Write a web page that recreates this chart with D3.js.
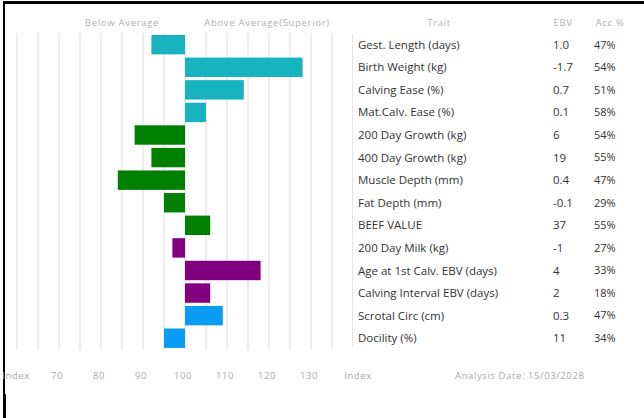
<!DOCTYPE html>
<html><head><meta charset="utf-8">
<script src="https://cdn.jsdelivr.net/npm/d3@7"></script>
<style>html,body{margin:0;padding:0;background:#fff;}svg{display:block;}</style>
</head><body>
<script>
const traits = ["Gest. Length (days)","Birth Weight (kg)","Calving Ease (%)","Mat.Calv. Ease (%)","200 Day Growth (kg)","400 Day Growth (kg)","Muscle Depth (mm)","Fat Depth (mm)","BEEF VALUE","200 Day Milk (kg)","Age at 1st Calv. EBV (days)","Calving Interval EBV (days)","Scrotal Circ (cm)","Docility (%)"];
const indexValues = [92,128,114,105,88,92,84,95,106,97,118,106,109,95];
const ebvValues = ["1.0","-1.7","0.7","0.1","6","19","0.4","-0.1","37","-1","4","2","0.3","11"];
const accValues = ["47%","54%","51%","58%","54%","55%","47%","29%","55%","27%","33%","18%","47%","34%"];
const groups = ["calving","calving","calving","calving","growth","growth","growth","growth","growth","maternal","maternal","maternal","fertility","temperament"];
const tickLabels = [70,80,90,100,110,120,130];
const gridValues = d3.range(60,136,5);
const colors = {calving:"#17b3be",growth:"#008000",maternal:"#800080",fertility:"#0a9cf2",temperament:"#0a9cf2"};

const W=644,H=418;
const svg=d3.select("body").append("svg").attr("width",W).attr("height",H);
const x=d3.scaleLinear().domain([60,135]).range([17,332]);
const y=d3.scaleBand().domain(traits).range([33.4,349.5]).paddingInner(0.14).paddingOuter(0.07);

// borders
svg.append("rect").attr("x",3).attr("y",1).attr("width",W-3).attr("height",3).attr("fill","#000");
svg.append("rect").attr("x",3).attr("y",1).attr("width",2).attr("height",H).attr("fill","#000");
svg.append("rect").attr("x",3).attr("y",394).attr("width",3).attr("height",24).attr("fill","#000");

// grid
svg.append("g").selectAll("line").data(gridValues).join("line")
  .attr("x1",d=>x(d)).attr("x2",d=>x(d)).attr("y1",33).attr("y2",350)
  .attr("stroke","#e8e8e8").attr("stroke-width",1.5);

// separator
svg.append("line").attr("x1",352.5).attr("x2",352.5).attr("y1",34).attr("y2",346).attr("stroke","#e6e6e6").attr("stroke-width",1);

// bars
svg.append("g").selectAll("rect").data(traits).join("rect")
  .attr("x",(d,i)=>x(Math.min(100,indexValues[i])))
  .attr("width",(d,i)=>Math.abs(x(indexValues[i])-x(100)))
  .attr("y",d=>y(d)).attr("height",y.bandwidth())
  .attr("fill",(d,i)=>colors[groups[i]]);

const font="'Open Sans', sans-serif";
// headers
const hdr=svg.append("g").attr("font-family",font).attr("font-size",9.5).attr("fill","#b0b0b0").attr("letter-spacing",0.7);
hdr.append("text").attr("x",122).attr("y",26).attr("text-anchor","middle").text("Below Average");
hdr.append("text").attr("x",267).attr("y",26).attr("text-anchor","middle").text("Above Average(Superior)");
hdr.append("text").attr("x",439).attr("y",26).attr("text-anchor","middle").text("Trait");
hdr.append("text").attr("x",563).attr("y",26).attr("text-anchor","middle").text("EBV");
hdr.append("text").attr("x",610).attr("y",26).attr("text-anchor","middle").text("Acc %");

// table text
const tbl=svg.append("g").attr("font-family",font).attr("font-size",11.5).attr("fill","#333");
tbl.selectAll("text.t").data(traits).join("text").attr("class","t")
  .attr("x",358).attr("y",d=>y(d)+y.bandwidth()/2).attr("dy","0.35em").text(d=>d);
tbl.selectAll("text.e").data(traits).join("text").attr("class","e")
  .attr("x",553).attr("y",d=>y(d)+y.bandwidth()/2).attr("dy","0.35em").text((d,i)=>ebvValues[i]);
tbl.selectAll("text.a").data(traits).join("text").attr("class","a")
  .attr("x",594).attr("y",d=>y(d)+y.bandwidth()/2).attr("dy","0.35em").attr("font-size",11).text((d,i)=>accValues[i]);

// bottom axis labels
const bot=svg.append("g").attr("font-family",font).attr("font-size",9.5).attr("fill","#a8a8a8").attr("letter-spacing",0.6);
bot.selectAll("text.k").data(tickLabels).join("text").attr("class","k")
  .attr("x",d=>x(d)-2).attr("y",379).attr("text-anchor","middle").text(d=>d);
bot.append("text").attr("x",16).attr("y",379).attr("text-anchor","middle").text("Index");
bot.append("text").attr("x",358).attr("y",379).attr("text-anchor","middle").text("Index");
bot.append("text").attr("x",455).attr("y",379).text("Analysis Date: 15/03/2028");
</script>
</body></html>
